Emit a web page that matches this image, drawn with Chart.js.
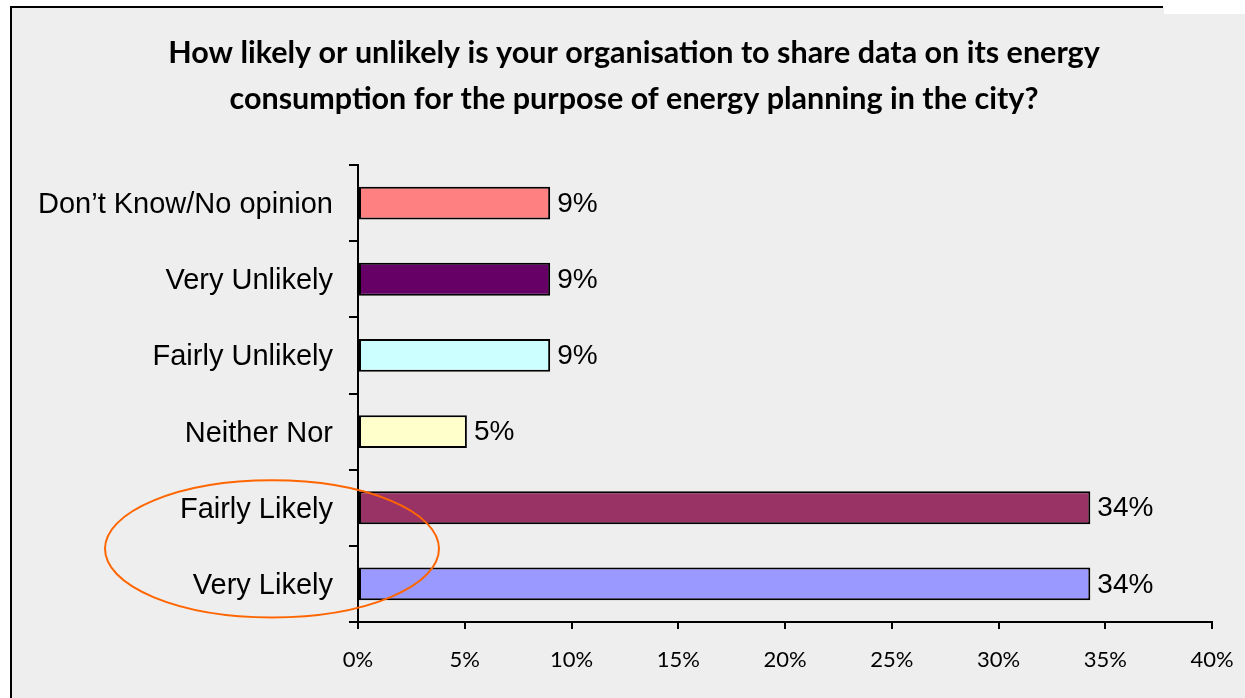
<!DOCTYPE html>
<html>
<head>
<meta charset="utf-8">
<script src="https://cdn.jsdelivr.net/npm/chart.js@4"></script>
<style>
  html, body { margin: 0; padding: 0; background: #fff; }
  #wrap { width: 1245px; height: 698px; }
</style>
</head>
<body>
<div id="wrap"><canvas id="chart" width="1245" height="698"></canvas></div>
<script>
var titleLines = ["How likely or unlikely is your organisation to share data on its energy",
                  "consumption for the purpose of energy planning in the city?"];
var categories = ["Don\u2019t Know/No opinion", "Very Unlikely", "Fairly Unlikely", "Neither Nor", "Fairly Likely", "Very Likely"];
var values = [9.0, 9.0, 9.0, 5.1, 34.3, 34.3];
var barColors = ["#FF8080", "#660066", "#CCFFFF", "#FFFFCC", "#993366", "#9999FF"];
var xTicks = [0, 5, 10, 15, 20, 25, 30, 35, 40];

// grey panel with the black frame on the left and top
var frame = {
    id: "frame",
    beforeDraw: function (chart) {
        var ctx = chart.ctx;
        ctx.save();
        ctx.fillStyle = "#fff";
        ctx.fillRect(0, 0, chart.width, chart.height);
        ctx.fillStyle = "#eeeeee";
        ctx.fillRect(11, 7, chart.width - 11, chart.height - 7);
        ctx.strokeStyle = "#000";
        ctx.lineWidth = 2;
        ctx.beginPath();
        ctx.moveTo(11, chart.height);
        ctx.lineTo(11, 7);
        ctx.lineTo(1163, 7);
        ctx.stroke();
        ctx.fillStyle = "#fff";
        ctx.fillRect(1164, 0, chart.width - 1164, 14);
        ctx.restore();
    }
};

// two-line bold title, centred a little right of the canvas middle like the original
var heading = {
    id: "heading",
    afterDraw: function (chart) {
        var ctx = chart.ctx;
        ctx.save();
        ctx.font = "bold 30.5px Lato, 'Open Sans', sans-serif";
        ctx.fillStyle = "#000";
        ctx.textAlign = "center";
        ctx.textBaseline = "middle";
        titleLines.forEach(function (line, i) {
            ctx.fillText(line, 634, 53 + i * 46);
        });
        ctx.restore();
    }
};

// value labels to the right of each bar
var barLabels = {
    id: "barLabels",
    afterDatasetsDraw: function (chart) {
        var ctx = chart.ctx;
        var meta = chart.getDatasetMeta(0);
        ctx.save();
        ctx.font = "28px 'Liberation Sans', Arial, sans-serif";
        ctx.fillStyle = "#000";
        ctx.textBaseline = "middle";
        ctx.textAlign = "left";
        meta.data.forEach(function (bar, i) {
            ctx.fillText(Math.round(values[i]) + "%", bar.x + 7, bar.y + 1);
        });
        ctx.restore();
    }
};

// orange ring around the two "likely" labels
var ring = {
    id: "ring",
    afterDraw: function (chart) {
        var y = chart.scales.y;
        var area = chart.chartArea;
        var step = y.getPixelForValue(5) - y.getPixelForValue(4);
        var cy = (y.getPixelForValue(4) + y.getPixelForValue(5)) / 2 + 3;
        var ctx = chart.ctx;
        ctx.save();
        ctx.strokeStyle = "#FF6600";
        ctx.lineWidth = 2;
        ctx.beginPath();
        ctx.ellipse(area.left - 86, cy, 167, step * 0.9, 0, 0, Math.PI * 2);
        ctx.stroke();
        ctx.restore();
    }
};

var ctx = document.getElementById("chart").getContext("2d");
var chart = new Chart(ctx, {
    type: "bar",
    data: {
        labels: categories,
        datasets: [{
            data: values,
            backgroundColor: barColors,
            borderColor: "#000",
            borderWidth: 2,
            borderSkipped: false,
            barPercentage: 0.43,
            categoryPercentage: 1
        }]
    },
    options: {
        indexAxis: "y",
        responsive: false,
        animation: false,
        layout: { padding: { left: 0, right: 33, top: 165, bottom: 0 } },
        plugins: {
            legend: { display: false },
            tooltip: { enabled: false },
            title: { display: false }
        },
        scales: {
            x: {
                min: 0,
                max: 40,
                afterBuildTicks: function (scale) {
                    scale.ticks = xTicks.map(function (v) { return { value: v }; });
                },
                afterFit: function (scale) {
                    scale.height = 76;
                    scale.paddingLeft = 0;
                    scale.paddingRight = 0;
                },
                grid: { drawOnChartArea: false, drawTicks: true, tickLength: 7, color: "#000", lineWidth: 2 },
                border: { display: true, color: "#000", width: 2 },
                ticks: {
                    color: "#000",
                    padding: 18,
                    maxRotation: 0,
                    font: { family: "Lato, 'Open Sans', sans-serif", size: 22 },
                    callback: function (v) { return v + "%"; }
                }
            },
            y: {
                afterFit: function (scale) {
                    scale.width = 358;
                    scale.paddingTop = 0;
                    scale.paddingBottom = 0;
                },
                grid: { drawOnChartArea: false, drawTicks: true, tickLength: 9, color: "#000", lineWidth: 2, offset: true },
                border: { display: true, color: "#000", width: 2 },
                ticks: {
                    color: "#000",
                    padding: 16,
                    labelOffset: 2,
                    font: { family: "'Liberation Sans', Arial, sans-serif", size: 29 }
                }
            }
        }
    },
    plugins: [frame, barLabels, ring, heading]
});
</script>
</body>
</html>
